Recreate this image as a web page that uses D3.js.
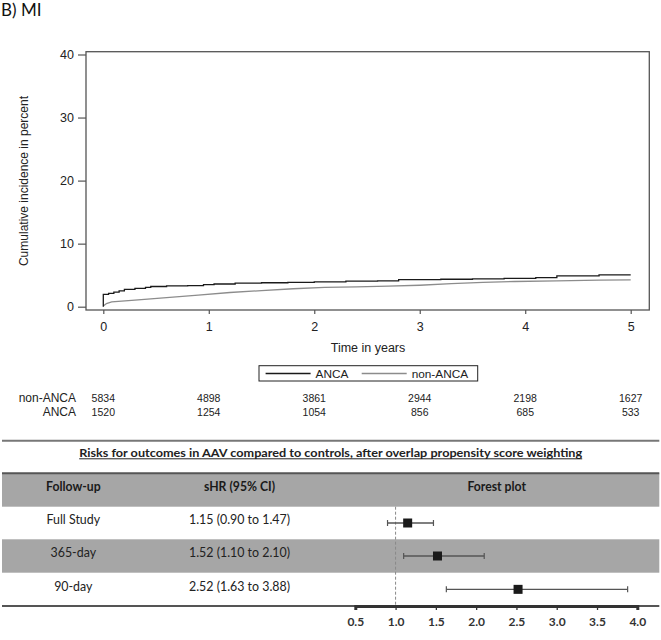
<!DOCTYPE html>
<html>
<head>
<meta charset="utf-8">
<script src="https://cdn.jsdelivr.net/npm/d3@7"></script>
<style>
  html, body { margin: 0; padding: 0; background: #fff; }
  svg { display: block; }
</style>
</head>
<body>
<svg id="chart" width="661" height="640"></svg>
<script>
// ---------- DATA ----------
const panelTitle = "B) MI";
const yTicks = [0, 10, 20, 30, 40];
const xTicks = [0, 1, 2, 3, 4, 5];
const seriesNames = ["ANCA", "non-ANCA"];

const ancaTime  = [0, 0, 0.05, 0.1, 0.15, 0.2, 0.3, 0.4, 0.45, 0.6, 0.8, 0.95, 1.05, 1.25, 1.5, 1.75, 2.0, 2.3, 2.6, 2.8, 3.2, 3.5, 3.8, 4.1, 4.3, 4.7, 5.0];
const ancaValue = [0, 1.95, 2.1, 2.3, 2.5, 2.75, 2.9, 3.05, 3.2, 3.3, 3.35, 3.5, 3.6, 3.75, 3.8, 3.85, 3.95, 4.05, 4.1, 4.3, 4.35, 4.4, 4.5, 4.6, 4.9, 5.05, 5.05];

const nonTime  = [0, 0.03, 0.08, 0.3, 0.6, 0.9, 1.2, 1.5, 1.8, 2.1, 2.4, 2.7, 3.0, 3.3, 3.6, 3.9, 4.3, 4.7, 5.0];
const nonValue = [0.1, 0.5, 0.75, 1.05, 1.45, 1.85, 2.25, 2.55, 2.85, 3.05, 3.15, 3.25, 3.4, 3.65, 3.85, 4.0, 4.1, 4.2, 4.25];

const riskLabels = ["non-ANCA", "ANCA"];
const riskNonAnca = [5834, 4898, 3861, 2944, 2198, 1627];
const riskAnca    = [1520, 1254, 1054, 856, 685, 533];

const tableTitle = "Risks for outcomes in AAV compared to controls, after overlap propensity score weighting";
const tableHeaders = ["Follow-up", "sHR (95% CI)", "Forest plot"];
const followUp = ["Full Study", "365-day", "90-day"];
const shr   = [1.15, 1.52, 2.52];
const lower = [0.90, 1.10, 1.63];
const upper = [1.47, 2.10, 3.88];
const forestTicks = [0.5, 1.0, 1.5, 2.0, 2.5, 3.0, 3.5, 4.0];

// ---------- SETUP ----------
const svg = d3.select("#chart");
const chartFont = "'Liberation Sans', Arial, sans-serif";
const tableFont = "Lato, 'Open Sans', sans-serif";

svg.append("text").attr("x", 1).attr("y", 16)
  .attr("font-family", tableFont).attr("font-size", 17).attr("fill", "#111")
  .text(panelTitle);

// Plot box
const box = { left: 86, right: 649.3, top: 51.7, bottom: 310 };
const x = d3.scaleLinear().domain([0, 5]).range([103.3, 630.7]);
const y = d3.scaleLinear().domain([0, 40]).range([306.7, 54.5]);

svg.append("rect")
  .attr("x", box.left).attr("y", box.top)
  .attr("width", box.right - box.left).attr("height", box.bottom - box.top)
  .attr("fill", "none").attr("stroke", "#555").attr("stroke-width", 1.3);

const yAxis = svg.append("g").attr("transform", `translate(${box.left},0)`)
  .call(d3.axisLeft(y).tickValues(yTicks).tickSize(8).tickPadding(4));
yAxis.select(".domain").remove();
yAxis.selectAll("line").attr("stroke", "#555").attr("stroke-width", 1.2);
yAxis.selectAll("text").attr("font-family", chartFont).attr("font-size", 12.5).attr("fill", "#222");

const xAxis = svg.append("g").attr("transform", `translate(0,${box.bottom})`)
  .call(d3.axisBottom(x).tickValues(xTicks).tickFormat(d3.format("d")).tickSize(4).tickPadding(8));
xAxis.select(".domain").remove();
xAxis.selectAll("line").attr("stroke", "#555").attr("stroke-width", 1.2);
xAxis.selectAll("text").attr("font-family", chartFont).attr("font-size", 12.5).attr("fill", "#222");

svg.append("text")
  .attr("transform", "translate(28,181) rotate(-90)")
  .attr("text-anchor", "middle")
  .attr("font-family", chartFont).attr("font-size", 12).attr("fill", "#222")
  .text("Cumulative incidence in percent");

svg.append("text").attr("x", 368).attr("y", 352)
  .attr("text-anchor", "middle")
  .attr("font-family", chartFont).attr("font-size", 12.5).attr("fill", "#222")
  .text("Time in years");

// Curves
const ancaData = ancaTime.map((t, i) => [t, ancaValue[i]]);
const nonData = nonTime.map((t, i) => [t, nonValue[i]]);
svg.append("path").datum(nonData)
  .attr("d", d3.line().x(d => x(d[0])).y(d => y(d[1])).curve(d3.curveLinear))
  .attr("fill", "none").attr("stroke", "#8c8c8c").attr("stroke-width", 1.3);
svg.append("path").datum(ancaData)
  .attr("d", d3.line().x(d => x(d[0])).y(d => y(d[1])).curve(d3.curveStepAfter))
  .attr("fill", "none").attr("stroke", "#1a1a1a").attr("stroke-width", 1.3);

// Legend
const lg = svg.append("g");
lg.append("rect").attr("x", 259).attr("y", 365.7).attr("width", 218.7).attr("height", 15.3)
  .attr("fill", "#fff").attr("stroke", "#222").attr("stroke-width", 1);
const legendColors = ["#1a1a1a", "#8c8c8c"];
const legendLineX = [265.6, 361.7];
seriesNames.forEach((n, i) => {
  lg.append("line").attr("x1", legendLineX[i]).attr("x2", legendLineX[i] + 45)
    .attr("y1", 373.5).attr("y2", 373.5)
    .attr("stroke", legendColors[i]).attr("stroke-width", 1.3);
  lg.append("text").attr("x", legendLineX[i] + 50).attr("y", 377.8)
    .attr("font-family", chartFont).attr("font-size", 11.8).attr("fill", "#222")
    .text(n);
});

// Risk table
const riskRows = [riskNonAnca, riskAnca];
const riskY = [401.5, 415.5];
riskRows.forEach((row, r) => {
  svg.append("text").attr("x", 76).attr("y", riskY[r]).attr("text-anchor", "end")
    .attr("font-family", chartFont).attr("font-size", 12).attr("fill", "#222")
    .text(riskLabels[r]);
  svg.selectAll(null).data(row).enter().append("text")
    .attr("x", (d, i) => x(xTicks[i])).attr("y", riskY[r])
    .attr("text-anchor", "middle")
    .attr("font-family", chartFont).attr("font-size", 10.5).attr("fill", "#222")
    .text(d => d);
});

// ---------- TABLE / FOREST ----------
const tL = 2, tR = 659.3;
// compress a group of texts horizontally so that the reference text gets the target width
function squeeze(texts, refIndex, target) {
  const factor = target / texts[refIndex].node().getComputedTextLength();
  texts.forEach(t => {
    const w = t.node().getComputedTextLength();
    t.attr("textLength", w * factor).attr("lengthAdjust", "spacingAndGlyphs");
  });
}

svg.append("line").attr("x1", tL).attr("x2", tR).attr("y1", 440.7).attr("y2", 440.7)
  .attr("stroke", "#777").attr("stroke-width", 2);

const tt = svg.append("text").attr("x", 330.7).attr("y", 456.7).attr("text-anchor", "middle")
  .attr("font-family", tableFont).attr("font-weight", "bold").attr("font-size", 11.5).attr("fill", "#222")
  .text(tableTitle);
squeeze([tt], 0, 503);
svg.append("line").attr("x1", 330.7 - 503 / 2).attr("x2", 330.7 + 503 / 2)
  .attr("y1", 458.8).attr("y2", 458.8).attr("stroke", "#222").attr("stroke-width", 1);

const headerTop = 473.3, headerBot = 506.7;
const rowEdges = [506.7, 539.3, 572.7, 606];
const gray = "#a6a6a6";
svg.append("rect").attr("x", tL).attr("y", headerTop).attr("width", tR - tL).attr("height", headerBot - headerTop).attr("fill", gray);
svg.append("rect").attr("x", tL).attr("y", rowEdges[1]).attr("width", tR - tL).attr("height", rowEdges[2] - rowEdges[1]).attr("fill", gray);
svg.append("line").attr("x1", tL).attr("x2", tR).attr("y1", headerTop).attr("y2", headerTop)
  .attr("stroke", "#555").attr("stroke-width", 2);

const colX = [73.3, 239.5, 496.7];
const hdrs = tableHeaders.map((h, i) => svg.append("text").attr("x", colX[i]).attr("y", 491)
  .attr("text-anchor", "middle").attr("font-family", tableFont).attr("font-weight", "bold")
  .attr("font-size", 12.5).attr("fill", "#1a1a1a").text(h));
squeeze(hdrs, 1, 71);

const ciText = shr.map((v, i) => `${v.toFixed(2)} (${lower[i].toFixed(2)} to ${upper[i].toFixed(2)})`);
const bodyTexts = [];
followUp.forEach((f, i) => {
  const cy = (rowEdges[i] + rowEdges[i + 1]) / 2;
  bodyTexts.push(svg.append("text").attr("x", colX[0]).attr("y", cy + 1.3).attr("text-anchor", "middle")
    .attr("font-family", tableFont).attr("font-size", 12.5).attr("fill", "#222").text(f));
  bodyTexts.push(svg.append("text").attr("x", colX[1]).attr("y", cy + 1.3).attr("text-anchor", "middle")
    .attr("font-family", tableFont).attr("font-size", 12.5).attr("fill", "#222").text(ciText[i]));
});
squeeze(bodyTexts, 1, 101);

// Forest plot
const fx = d3.scaleLinear().domain([0.5, 4.0]).range([355.3, 637.3]);
svg.append("line").attr("x1", tL).attr("x2", tR).attr("y1", 606).attr("y2", 606)
  .attr("stroke", "#555").attr("stroke-width", 2);
svg.append("line").attr("x1", fx(1)).attr("x2", fx(1)).attr("y1", rowEdges[0]).attr("y2", 606)
  .attr("stroke", "#888").attr("stroke-width", 1).attr("stroke-dasharray", "3,2");

const fAxis = svg.append("g").attr("transform", "translate(0,606)")
  .call(d3.axisBottom(fx).tickValues(forestTicks).tickFormat(d3.format(".1f")).tickSize(4).tickPadding(7));
fAxis.select(".domain").attr("stroke", "#333").attr("stroke-width", 3);
fAxis.selectAll("line").attr("stroke", "#333").attr("stroke-width", 1.3);
fAxis.selectAll("text").attr("font-family", tableFont).attr("font-weight", "bold")
  .attr("font-size", 12).attr("fill", "#333");

shr.forEach((v, i) => {
  const cy = (rowEdges[i] + rowEdges[i + 1]) / 2;
  const g = svg.append("g");
  g.append("line").attr("x1", fx(lower[i])).attr("x2", fx(upper[i])).attr("y1", cy).attr("y2", cy)
    .attr("stroke", "#555").attr("stroke-width", 1.4);
  [lower[i], upper[i]].forEach(e => g.append("line").attr("x1", fx(e)).attr("x2", fx(e))
    .attr("y1", cy - 3).attr("y2", cy + 3).attr("stroke", "#555").attr("stroke-width", 1.2));
  g.append("rect").attr("x", fx(v) - 4.5).attr("y", cy - 4.5).attr("width", 9).attr("height", 9)
    .attr("fill", "#1a1a1a");
});
</script>
</body>
</html>
